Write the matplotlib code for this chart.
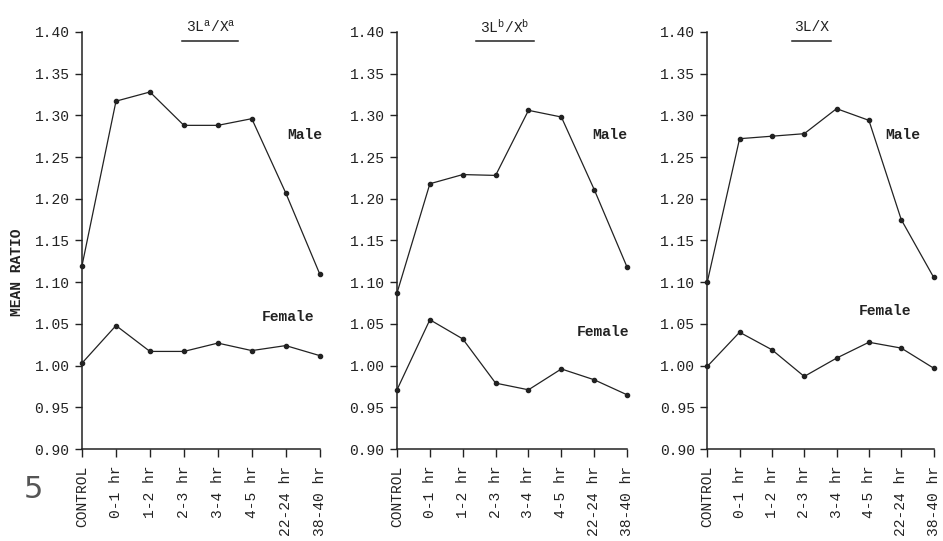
import matplotlib
matplotlib.use("Agg")
import matplotlib.pyplot as plt

plt.rcParams["font.family"] = ["Liberation Mono", "DejaVu Sans Mono"]
plt.rcParams["mathtext.fontset"] = "custom"
plt.rcParams["mathtext.rm"] = "Liberation Mono"
plt.rcParams["mathtext.it"] = "Liberation Mono"

INK = "#222222"

times = ["CONTROL", "0-1 hr", "1-2 hr", "2-3 hr", "3-4 hr", "4-5 hr", "22-24 hr", "38-40 hr"]
yticks = [0.90, 0.95, 1.00, 1.05, 1.10, 1.15, 1.20, 1.25, 1.30, 1.35, 1.40]

titles = [r"3L$^{\mathrm{a}}$/X$^{\mathrm{a}}$", r"3L$^{\mathrm{b}}$/X$^{\mathrm{b}}$", "3L/X"]

male_a = [1.120, 1.317, 1.328, 1.288, 1.288, 1.296, 1.207, 1.110]
female_a = [1.003, 1.048, 1.017, 1.017, 1.027, 1.018, 1.024, 1.012]
male_b = [1.087, 1.218, 1.229, 1.228, 1.306, 1.298, 1.211, 1.118]
female_b = [0.971, 1.055, 1.032, 0.979, 0.971, 0.996, 0.983, 0.965]
male_c = [1.100, 1.272, 1.275, 1.278, 1.308, 1.294, 1.175, 1.106]
female_c = [0.999, 1.040, 1.019, 0.987, 1.009, 1.028, 1.021, 0.997]

males = [male_a, male_b, male_c]
females = [female_a, female_b, female_c]

# panel layout (figure fractions) and label spots
rects = [[0.087, 0.170, 0.252, 0.771],
         [0.421, 0.170, 0.244, 0.771],
         [0.750, 0.170, 0.240, 0.771]]
title_x = [0.54, 0.47, 0.46]
line_w = [0.235, 0.25, 0.17]
male_pos = [(6.05, 1.277), (5.93, 1.277), (5.5, 1.276)]
female_pos = [(5.3, 1.058), (5.47, 1.040), (4.68, 1.065)]

fig = plt.figure(figsize=(9.43, 5.41), dpi=100)

for i in range(3):
    ax = fig.add_axes(rects[i])
    x = list(range(len(times)))
    ax.plot(x, males[i], color=INK, lw=0.9, marker="o", ms=3, clip_on=False)
    ax.plot(x, females[i], color=INK, lw=0.9, marker="o", ms=3, clip_on=False)

    ax.set_xlim(0, 7)
    ax.set_ylim(0.90, 1.40)
    ax.set_xticks(x)
    ax.set_xticklabels(times, rotation=90, fontsize=10.5, color=INK, va="top")
    ax.set_yticks(yticks)
    ax.set_yticklabels(["%.2f" % v for v in yticks], fontsize=10.5, color=INK)
    ax.tick_params(axis="x", length=6, width=1, pad=6, color=INK)
    ax.tick_params(axis="y", length=5, width=1, pad=4, color=INK)

    for s in ["top", "right"]:
        ax.spines[s].set_visible(False)
    for s in ["left", "bottom"]:
        ax.spines[s].set_color(INK)
        ax.spines[s].set_linewidth(1.1)

    ax.text(title_x[i], 1.012, titles[i], transform=ax.transAxes, ha="center",
            va="center", fontsize=10.5, color=INK)
    ax.plot([title_x[i] - line_w[i] / 2, title_x[i] + line_w[i] / 2], [0.978, 0.978],
            transform=ax.transAxes, color=INK, lw=1.1, clip_on=False)

    ax.text(male_pos[i][0], male_pos[i][1], "Male", fontsize=10.5, fontweight="bold",
            color=INK, va="center", ha="left")
    ax.text(female_pos[i][0], female_pos[i][1], "Female", fontsize=10.5, fontweight="bold",
            color=INK, va="center", ha="left")

fig.text(0.018, 0.497, "MEAN RATIO", rotation=90, ha="center", va="center",
         fontsize=10.5, fontweight="bold", color=INK)
fig.text(0.035, 0.095, "5", fontsize=22, color="#555555", ha="center", va="center",
         family="DejaVu Sans")

plt.savefig("out.png", dpi=100)
